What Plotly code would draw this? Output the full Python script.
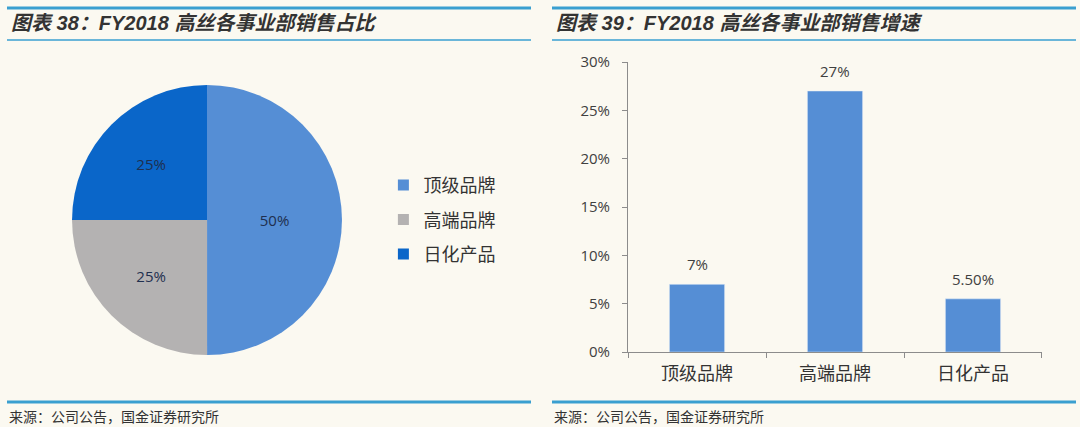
import plotly.graph_objects as go

# 数据
pie_labels = ['顶级品牌', '高端品牌', '日化产品']
pie_values = [50, 25, 25]
pie_colors = ['#558ED5', '#B4B2B2', '#0A66C9']

bar_cats = ['顶级品牌', '高端品牌', '日化产品']
bar_values = [0.07, 0.27, 0.055]
bar_text = ['7%', '27%', '5.50%']

bg = '#FBF9F1'
line_color = '#3A9FD0'
cjk = 'Noto Sans CJK SC'

fig = go.Figure()

fig.add_trace(go.Pie(labels=pie_labels, values=pie_values,
                     marker=dict(colors=pie_colors, line=dict(width=0)),
                     sort=False, direction='clockwise', rotation=0,
                     texttemplate='%{percent:.0%}', textposition='inside',
                     insidetextorientation='horizontal',
                     textfont=dict(family='Open Sans', size=15, color='#1F2F4F'),
                     domain=dict(x=[0.0667, 0.3167], y=[0.1686, 0.8009]),
                     showlegend=False, hoverinfo='label+percent'))

# 图例：每个类别单独一组，方便拉开行距
for name, col in zip(pie_labels, pie_colors):
    fig.add_trace(go.Scatter(x=[None], y=[None], mode='markers', name=name,
                             legendgroup=name, xaxis='x2', yaxis='y2',
                             marker=dict(symbol='square', size=11, color=col)))

fig.add_trace(go.Bar(x=bar_cats, y=bar_values, marker_color='#558ED5',
                     width=0.4, showlegend=False))

# 柱子上方的数据标签
for c, v, t in zip(bar_cats, bar_values, bar_text):
    fig.add_annotation(x=c, y=v, text=t, showarrow=False, yshift=20,
                       font=dict(family='Open Sans', size=15, color='#404040'))

fig.update_layout(
    width=1080, height=427, autosize=False,
    margin=dict(l=0, r=0, t=0, b=0, pad=0),
    paper_bgcolor=bg, plot_bgcolor=bg,
    legend=dict(x=0.355, y=0.485, xanchor='left', yanchor='middle',
                font=dict(family=cjk, size=18, color='#333333'),
                bgcolor='rgba(0,0,0,0)', itemwidth=30, tracegroupgap=8,
                traceorder='grouped'),
    xaxis=dict(domain=[0.5815, 0.9648], type='category', showline=True,
               linecolor='#8C8C8C', ticks='outside', tickson='boundaries',
               ticklen=5, tickcolor='#8C8C8C', ticklabelstandoff=5,
               tickfont=dict(family=cjk, size=18, color='#333333'),
               showgrid=False, zeroline=False, automargin=False),
    yaxis=dict(domain=[0.1756, 0.8548], range=[0, 0.30], dtick=0.05, tickformat='.0%',
               showline=True, linecolor='#8C8C8C', ticks='outside', ticklen=5,
               tickcolor='#8C8C8C', ticklabelstandoff=9, showgrid=False,
               zeroline=False, automargin=False,
               tickfont=dict(family='Open Sans', size=15, color='#404040')),
    # 仅用于承载图例的隐藏坐标轴
    xaxis2=dict(domain=[0, 0.01], visible=False),
    yaxis2=dict(domain=[0, 0.01], visible=False, anchor='x2'),
)

# 标题、分隔线和来源
for x0, x1, title in [(7, 531, '图表 38：FY2018 高丝各事业部销售占比'),
                      (552, 1076, '图表 39：FY2018 高丝各事业部销售增速')]:
    fig.add_shape(type='line', xref='paper', yref='paper', x0=x0 / 1080, x1=x1 / 1080,
                  y0=1 - 8 / 427, y1=1 - 8 / 427, line=dict(color=line_color, width=3))
    fig.add_shape(type='line', xref='paper', yref='paper', x0=x0 / 1080, x1=x1 / 1080,
                  y0=1 - 40 / 427, y1=1 - 40 / 427, line=dict(color=line_color, width=1.5))
    fig.add_shape(type='line', xref='paper', yref='paper', x0=x0 / 1080, x1=x1 / 1080,
                  y0=1 - 402 / 427, y1=1 - 402 / 427, line=dict(color=line_color, width=3))
    fig.add_annotation(xref='paper', yref='paper', x=(x0 + 2) / 1080, y=1 - 23 / 427,
                       xanchor='left', yanchor='middle', showarrow=False,
                       text='<b><i>' + title + '</i></b>',
                       font=dict(family='Liberation Sans, ' + cjk, size=20,
                                 color='#333333'))
    fig.add_annotation(xref='paper', yref='paper', x=x0 / 1080, y=1 - 416 / 427,
                       xanchor='left', yanchor='middle', showarrow=False,
                       text='来源：公司公告，国金证券研究所',
                       font=dict(family=cjk, size=14, color='#333333'))

# 去掉页面默认的 8px 边距，并隐藏工具栏
fig.write_html("out.html", config={'displayModeBar': False},
               post_script="document.body.style.margin='0px';"
                           "document.body.style.background='" + bg + "';")
